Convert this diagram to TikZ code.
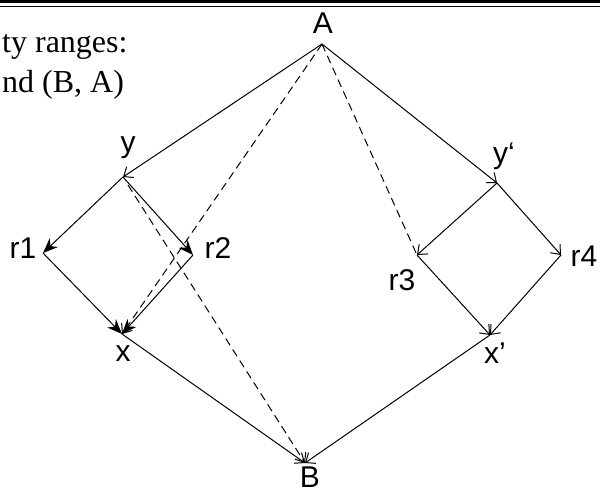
\documentclass[tikz,border=0pt]{standalone}
\usepackage{fontspec}
\setmainfont{Liberation Serif}
\newfontfamily\labfont{Liberation Sans}
\usetikzlibrary{arrows.meta}
\begin{document}
\begin{tikzpicture}[x=1pt,y=-1pt,
  lab/.style={font=\labfont\fontsize{30}{30}\selectfont, inner sep=0pt},
  serif/.style={font=\fontsize{32}{38}\selectfont, inner sep=0pt, anchor=base west},
  conn/.style={line width=1pt},
  barb/.style={-{Straight Barb[length=8pt,width=13pt,line width=1pt]}},
  opentip/.style={conn,barb},
  filltip/.style={conn,-{Stealth[length=15pt,width=12pt,inset=5pt]}},
  dashline/.style={conn,dash pattern=on 8pt off 5pt}
]
\useasboundingbox (0,0) rectangle (600,491);
\draw[line width=2.7pt] (0,1.6) -- (600,1.6);
\draw[line width=1.3pt] (0,6.2) -- (600,6.2);

\node[serif] (t1) at (2,52) {ty ranges:};
\node[serif] (t2) at (2,92) {nd (B, A)};

\coordinate (A) at (322,44);
\coordinate (y) at (123,177);
\coordinate (yp) at (497,183);
\coordinate (r1) at (43,253);
\coordinate (r2) at (193,255);
\coordinate (x) at (122,334);
\coordinate (r3) at (417,255);
\coordinate (r4) at (561,255);
\coordinate (xp) at (490,335);
\coordinate (B) at (305,463);

\node[lab] (lA) at (323,23) {A};
\node[lab] (ly) at (128,148) {y};
\node[lab] (lyp) at (504,156) {y‘};
\node[lab] (lr1) at (23,248) {r1};
\node[lab] (lr2) at (218,248) {r2};
\node[lab] (lr3) at (402,280) {r3};
\node[lab] (lr4) at (584,256) {r4};
\node[lab] (lx) at (123,354) {x};
\node[lab] (lxp) at (495,353) {x’};
\node[lab,anchor=north] (lB) at (310,467) {B};

\draw[opentip] (A) -- (y);
\draw[opentip] (A) -- (yp);
\draw[filltip] (y) -- (r1);
\draw[filltip] (y) -- (r2);
\draw[filltip] (r1) -- (x);
\draw[filltip] (r2) -- (x);
\draw[opentip] (x) -- (B);
\draw[opentip] (yp) -- (r3);
\draw[opentip] (yp) -- (r4);
\draw[opentip] (r3) -- (xp);
\draw[opentip] (r4) -- (xp);
\draw[opentip] (xp) -- (B);

\draw[dashline,barb] (A) -- (x);
\draw[dashline,barb] ([shift={(5,8)}]y) -- (B);
\draw[dashline] (A) -- (r3);
\end{tikzpicture}
\end{document}
